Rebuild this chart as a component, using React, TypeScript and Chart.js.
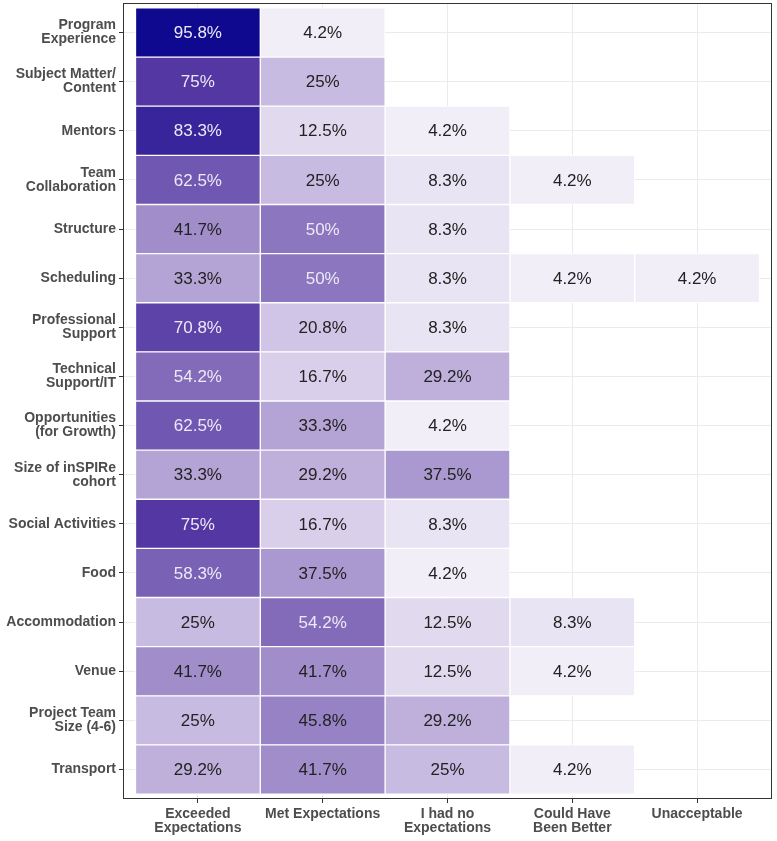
import React, { useEffect, useRef } from "react";
import { Chart, registerables } from "chart.js";

Chart.register(...registerables);

// Survey aspects (rows, top to bottom)
const aspects: string[][] = [
  ["Program", "Experience"],
  ["Subject Matter/", "Content"],
  ["Mentors"],
  ["Team", "Collaboration"],
  ["Structure"],
  ["Scheduling"],
  ["Professional", "Support"],
  ["Technical", "Support/IT"],
  ["Opportunities", "(for Growth)"],
  ["Size of inSPIRe", "cohort"],
  ["Social Activities"],
  ["Food"],
  ["Accommodation"],
  ["Venue"],
  ["Project Team", "Size (4-6)"],
  ["Transport"],
];

// Response categories (columns, left to right)
const responses: string[][] = [
  ["Exceeded", "Expectations"],
  ["Met Expectations"],
  ["I had no", "Expectations"],
  ["Could Have", "Been Better"],
  ["Unacceptable"],
];

// Percentage of respondents per aspect, one array per response category
const exceeded = [95.8, 75, 83.3, 62.5, 41.7, 33.3, 70.8, 54.2, 62.5, 33.3, 75, 58.3, 25, 41.7, 25, 29.2];
const met = [4.2, 25, 12.5, 25, 50, 50, 20.8, 16.7, 33.3, 29.2, 16.7, 37.5, 54.2, 41.7, 45.8, 41.7];
const noExpectations = [null, null, 4.2, 8.3, 8.3, 8.3, 8.3, 29.2, 4.2, 37.5, 8.3, 4.2, 12.5, 12.5, 29.2, 25];
const couldBeBetter = [null, null, null, 4.2, null, 4.2, null, null, null, null, null, null, 8.3, 4.2, null, 4.2];
const unacceptable = [null, null, null, null, null, 4.2, null, null, null, null, null, null, null, null, null, null];

const columns: (number | null)[][] = [exceeded, met, noExpectations, couldBeBetter, unacceptable];

const FONT = "'Liberation Sans', Arial, sans-serif";

// Fill gradient stops (value -> colour)
const stops: [number, [number, number, number]][] = [
  [0, [250, 248, 252]],
  [25, [200, 187, 225]],
  [50, [140, 118, 191]],
  [75, [84, 55, 163]],
  [100, [0, 0, 139]],
];

function fillFor(v: number): string {
  for (let i = 1; i < stops.length; i++) {
    const [v0, c0] = stops[i - 1];
    const [v1, c1] = stops[i];
    if (v <= v1) {
      const t = Math.max(0, (v - v0) / (v1 - v0));
      const c = c0.map((a, k) => Math.round(a + (c1[k] - a) * t));
      return `rgb(${c[0]},${c[1]},${c[2]})`;
    }
  }
  const c = stops[stops.length - 1][1];
  return `rgb(${c[0]},${c[1]},${c[2]})`;
}

const panelBorder = {
  id: "panelBorder",
  afterDatasetsDraw(chart: any) {
    const { ctx, chartArea } = chart;
    ctx.save();
    ctx.strokeStyle = "#333333";
    ctx.lineWidth = 1;
    ctx.strokeRect(
      Math.round(chartArea.left) + 0.5,
      Math.round(chartArea.top) + 0.5,
      Math.round(chartArea.right - chartArea.left) - 1,
      Math.round(chartArea.bottom - chartArea.top) - 1
    );
    ctx.restore();
  },
};

const cellLabels = {
  id: "cellLabels",
  afterDatasetsDraw(chart: any) {
    const { ctx } = chart;
    ctx.save();
    ctx.font = `17px ${FONT}`;
    ctx.textAlign = "center";
    ctx.textBaseline = "middle";
    chart.data.datasets.forEach((ds: any, di: number) => {
      const meta = chart.getDatasetMeta(di);
      meta.data.forEach((el: any, i: number) => {
        const raw = ds.data[i];
        if (!raw) return;
        const p = el.getCenterPoint();
        ctx.fillStyle = raw.v >= 50 ? "#ede9f6" : "#222222";
        ctx.fillText(`${raw.v}%`, p.x, p.y + 1);
      });
    });
    ctx.restore();
  },
};

export default function App() {
  const canvasRef = useRef<HTMLCanvasElement | null>(null);

  useEffect(() => {
    document.body.style.margin = "0";
    const canvas = canvasRef.current;
    if (!canvas) return;

    const datasets = columns.map((vals, c) => ({
      label: responses[c].join(" "),
      data: vals
        .map((v, r) => (v == null ? null : { x: [c - 0.5, c + 0.5], y: r, v }))
        .filter((d) => d !== null),
      backgroundColor: (ctx: any) => (ctx.raw ? fillFor(ctx.raw.v) : "transparent"),
      borderColor: "#ffffff",
      borderWidth: 1,
      borderSkipped: false,
      grouped: false,
      barPercentage: 1,
      categoryPercentage: 1,
    }));

    const chart = new Chart(canvas, {
      type: "bar",
      data: { datasets: datasets as any },
      options: {
        indexAxis: "y",
        animation: false,
        responsive: false,
        layout: { padding: { top: 3, right: 5, left: 0, bottom: 0 } },
        plugins: {
          legend: { display: false },
          tooltip: { enabled: false },
        },
        scales: {
          x: {
            type: "linear",
            min: -0.6,
            max: 4.6,
            offset: false,
            afterBuildTicks: (s: any) => {
              s.ticks = responses.map((_, i) => ({ value: i }));
            },
            afterFit: (s: any) => {
              s.height = 42;
              s.paddingLeft = 0;
              s.paddingRight = 0;
            },
            grid: {
              offset: false,
              color: "#ebebeb",
              lineWidth: 1,
              drawTicks: true,
              tickLength: 4,
              tickColor: "#333333",
            },
            border: { display: false },
            ticks: {
              autoSkip: false,
              maxRotation: 0,
              padding: 4,
              color: "#4d4d4d",
              font: { family: FONT, size: 14, weight: "bold", lineHeight: 1.0 },
              callback: (v: any) => responses[Number(v)] ?? "",
            },
          },
          y: {
            type: "linear",
            min: -0.6,
            max: 15.6,
            reverse: true,
            offset: false,
            afterBuildTicks: (s: any) => {
              s.ticks = aspects.map((_, i) => ({ value: i }));
            },
            afterFit: (s: any) => {
              s.width = 123;
              s.paddingTop = 0;
              s.paddingBottom = 0;
            },
            grid: {
              offset: false,
              color: "#ebebeb",
              lineWidth: 1,
              drawTicks: true,
              tickLength: 4,
              tickColor: "#333333",
            },
            border: { display: false },
            ticks: {
              autoSkip: false,
              padding: 3,
              color: "#4d4d4d",
              font: { family: FONT, size: 14, weight: "bold", lineHeight: 1.0 },
              callback: (v: any) => aspects[Number(v)] ?? "",
            },
          },
        },
      },
      plugins: [cellLabels, panelBorder],
    });

    return () => chart.destroy();
  }, []);

  return (
    <div style={{ width: 777, height: 841, overflow: "hidden", background: "#ffffff" }}>
      <canvas ref={canvasRef} width={777} height={841} style={{ display: "block" }} />
    </div>
  );
}
